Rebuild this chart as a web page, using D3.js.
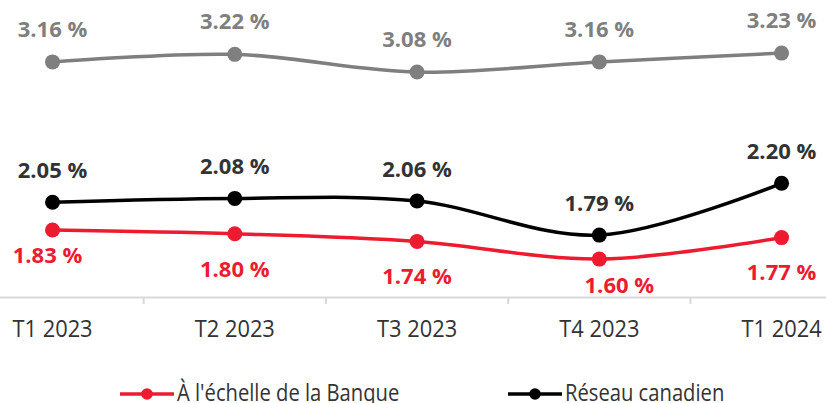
<!DOCTYPE html>
<html>
<head>
<meta charset="utf-8">
<script src="https://cdn.jsdelivr.net/npm/d3@7"></script>
<style>
  html, body { margin: 0; padding: 0; background: #fff; }
  svg { display: block; }
  .lbl { font-family: "Open Sans", "Noto Sans", sans-serif; font-weight: 700; font-size: 22px; }
  .axis text { font-family: "Open Sans", "Noto Sans", sans-serif; font-size: 24px; fill: #333; }
  .legend text { font-family: "Open Sans", "Noto Sans", sans-serif; font-size: 24.5px; fill: #333; }
</style>
</head>
<body>
<svg id="chart" width="826" height="403"></svg>
<script>
// ---- data ----
const quarters = ["T1 2023", "T2 2023", "T3 2023", "T4 2023", "T1 2024"];
const bankValues = [1.83, 1.80, 1.74, 1.60, 1.77];        // À l'échelle de la Banque
const canadaValues = [2.05, 2.08, 2.06, 1.79, 2.20];      // Réseau canadien
const grayValues = [3.16, 3.22, 3.08, 3.16, 3.23];        // troisième série (grise)
const seriesNames = ["À l'échelle de la Banque", "Réseau canadien"];

// ---- layout (not data) ----
const bankLabelDx = [-5, 0, 0, 20, 0];
const bankLabelDy = [33, 43, 43, 34, 42];

const axisY = 297;
const svg = d3.select("#chart");

const x = d3.scaleBand().domain(quarters).range([-38.6, 872.7]);
const cx = q => x(q) + x.bandwidth() / 2;
const y = d3.scaleLinear().domain([1.3, 3.65]).range([axisY, 0]);

// axis
const axis = d3.axisBottom(x).tickSize(0).tickSizeOuter(0).tickPadding(0);
const gAxis = svg.append("g").attr("class", "axis").attr("transform", `translate(0,${axisY})`).call(axis);
gAxis.select(".domain").attr("stroke", "#d9d9d9").attr("stroke-width", 2);
gAxis.selectAll(".tick text").attr("dy", null).attr("y", 40.5)
  .attr("transform", "scale(0.91,1)");
// separators between categories
gAxis.selectAll(".sep").data(quarters.slice(1)).join("line")
  .attr("class", "sep")
  .attr("x1", q => x(q)).attr("x2", q => x(q))
  .attr("y1", 0).attr("y2", 7)
  .attr("stroke", "#d9d9d9").attr("stroke-width", 2);

const line = d3.line().x(d => cx(d.q)).y(d => y(d.v)).curve(d3.curveCatmullRom.alpha(0));

function drawSeries(values, color, width, r) {
  const pts = quarters.map((q, i) => ({ q, v: values[i], i }));
  svg.append("path").datum(pts).attr("d", line)
    .attr("fill", "none").attr("stroke", color).attr("stroke-width", width)
    .attr("stroke-linejoin", "round");
  svg.append("g").selectAll("circle").data(pts).join("circle")
    .attr("cx", d => cx(d.q)).attr("cy", d => y(d.v)).attr("r", r).attr("fill", color);
  return pts;
}

const grayPts = drawSeries(grayValues, "#7f7f7f", 3.5, 7.5);
const canPts = drawSeries(canadaValues, "#000000", 3.5, 7.5);
const bankPts = drawSeries(bankValues, "#ed1b2f", 3.5, 7.5);

const fmt = v => v.toFixed(2) + " %";

svg.append("g").selectAll("text").data(grayPts).join("text")
  .attr("class", "lbl").attr("text-anchor", "middle").attr("fill", "#7f7f7f")
  .attr("x", d => cx(d.q)).attr("y", d => y(d.v) - 25).text(d => fmt(d.v));

svg.append("g").selectAll("text").data(canPts).join("text")
  .attr("class", "lbl").attr("text-anchor", "middle").attr("fill", "#333333")
  .attr("x", d => cx(d.q)).attr("y", d => y(d.v) - 24).text(d => fmt(d.v));

svg.append("g").selectAll("text").data(bankPts).join("text")
  .attr("class", "lbl").attr("text-anchor", "middle").attr("fill", "#ed1b2f")
  .attr("x", d => cx(d.q) + bankLabelDx[d.i]).attr("y", d => y(d.v) + bankLabelDy[d.i]).text(d => fmt(d.v));

// legend
const legendItems = [
  { name: seriesNames[0], color: "#ed1b2f", x0: 120 },
  { name: seriesNames[1], color: "#000000", x0: 508 }
];
const lg = svg.append("g").attr("class", "legend");
const li = lg.selectAll("g").data(legendItems).join("g").attr("transform", d => `translate(${d.x0},394)`);
li.append("line").attr("x1", 0).attr("x2", 54).attr("y1", 0).attr("y2", 0)
  .attr("stroke", d => d.color).attr("stroke-width", 3.5);
li.append("circle").attr("cx", 27).attr("cy", 0).attr("r", 5.8).attr("fill", d => d.color);
li.append("text").attr("transform", "translate(57,6.5) scale(0.825,1)").text(d => d.name);
</script>
</body>
</html>
